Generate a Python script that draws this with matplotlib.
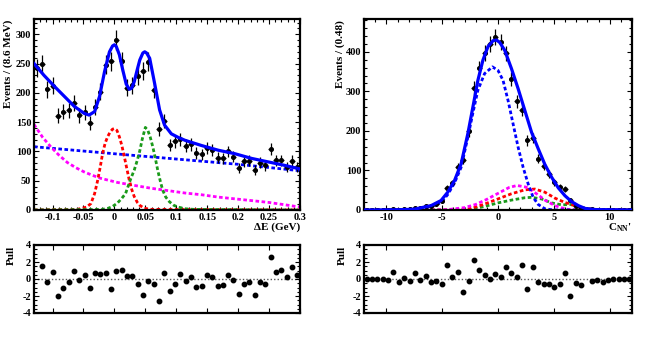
import numpy as np
import matplotlib
matplotlib.use('Agg')
import matplotlib.pyplot as plt
from matplotlib.ticker import MultipleLocator, FixedLocator, NullFormatter

plt.rcParams['font.family'] = ['Liberation Serif', 'DejaVu Serif']
plt.rcParams['font.weight'] = 'bold'
plt.rcParams['axes.unicode_minus'] = False
plt.rcParams['mathtext.fontset'] = 'custom'
plt.rcParams['mathtext.rm'] = 'Liberation Serif:bold'
plt.rcParams['mathtext.it'] = 'Liberation Serif:bold'

# ---- Delta E panel (50 bins of 8.6 MeV from -0.13 to 0.30)
de_lo, de_w = -0.13, 0.0086
de_counts = [242, 249, 206, 212, 161, 168, 170, 182, 162, 167,
             149, 176, 202, 248, 254, 291, 254, 209, 213, 229,
             237, 253, 205, 138, 152, 111, 117, 121, 110, 112,
             97, 95, 106, 102, 89, 88, 100, 91, 72, 83,
             84, 68, 81, 76, 104, 85, 85, 74, 84, 74]
de_pull = [np.nan, 1.54, -0.37, 0.88, -2.05, -1.04, -0.37, 1.0, -0.14, 0.49,
           -1.11, 0.72, 0.64, 0.72, -1.19, 1.0, 1.07, 0.41, 0.41, -0.64,
           -1.89, -0.25, -0.6, -2.56, 0.72, -1.42, -0.53, 0.57, -0.29, 0.25,
           -0.96, -0.88, 0.49, 0.25, -0.84, -0.76, 0.49, -0.1, -1.74, -0.57,
           -0.33, -1.85, -0.37, -0.64, 2.6, 0.88, 1.07, 0.21, 1.39, 0.49]

# fit curves
de_tot_x = [-0.13, -0.114, -0.097, -0.081, -0.065, -0.049, -0.041, -0.032, -0.024,
            -0.016, -0.008, -0.003, 0.0, 0.003, 0.008, 0.0135, 0.019, 0.024, 0.028,
            0.032, 0.037, 0.041, 0.046, 0.049, 0.052, 0.057, 0.065, 0.073, 0.081,
            0.092, 0.103, 0.114, 0.141, 0.168, 0.195, 0.222, 0.249, 0.276, 0.30]
de_tot_y = [250, 230, 211, 194, 177, 165, 162, 168, 194,
            236, 270, 280, 282, 279, 265, 239, 215, 206, 208,
            219, 240, 256, 268, 270, 268, 259, 216, 171, 145,
            130, 124, 119, 110, 102, 96, 88, 82, 76, 70]
de_bkg_x = [-0.13, 0.0, 0.1, 0.2, 0.3]
de_bkg_y = [108, 96, 87, 78, 67]
de_peak_x = [-0.13, 0.0, 0.1, 0.2, 0.3]
de_cont_x = [-0.13, -0.116, -0.103, -0.09, -0.076, -0.062, -0.049, -0.035, -0.022,
             0.005, 0.032, 0.06, 0.087, 0.114, 0.141, 0.168, 0.195, 0.222, 0.249, 0.275, 0.3]
de_cont_y = [146, 124, 108, 94, 81, 72, 65, 59, 54,
             47, 42, 37, 33, 29, 26, 22, 19, 16, 13, 9, 5]
de_sig1_x = [-0.13, -0.06, -0.045, -0.038, -0.032, -0.027, -0.023, -0.019, -0.015, -0.011,
             -0.007, -0.003, 0.0, 0.004, 0.008, 0.012, 0.016, 0.02, 0.024, 0.028,
             0.032, 0.037, 0.041, 0.048, 0.06, 0.3]
de_sig1_y = [0, 1, 5, 11, 28, 51, 73, 97, 114, 125,
             133, 138, 139, 136, 125, 110, 91, 71, 51, 35,
             23, 13, 8, 3, 1, 0]
de_sig2_x = [-0.13, -0.02, -0.01, -0.003, 0.005, 0.012, 0.018, 0.022, 0.027, 0.032,
             0.037, 0.041, 0.045, 0.05, 0.054, 0.058, 0.062, 0.066, 0.07, 0.074,
             0.078, 0.083, 0.089, 0.096, 0.103, 0.115, 0.13, 0.3]
de_sig2_y = [0, 1, 3, 6, 12, 20, 28, 40, 55, 68,
             85, 101, 121, 141, 136, 124, 108, 89, 68, 50,
             34, 22, 14, 8, 5, 2, 1, 0]

# ---- C_NN' panel (50 bins of 0.48 from -12 to 12)
cn_lo, cn_w = -12.0, 0.48
cn_counts = [0, 0, 0, 0, 0, 2, 1, 2, 2, 6,
             5, 9, 10, 16, 22, 55, 68, 108, 127, 199,
             309, 358, 397, 419, 437, 425, 396, 332, 275, 254,
             176, 182, 129, 111, 91, 70, 57, 53, 25, 11,
             6, 3, 3, 1, 1, 0, 0, 0, 0, 0]
cn_pull = [0, 0, 0, 0, -0.1, 0.88, -0.41, 0.06, -0.29, 0.68,
           -0.14, 0.37, -0.41, -0.18, -0.64, 1.62, 0.21, 0.88, -1.5, -0.25,
           2.25, 1.07, 0.45, -0.02, 0.57, 0.18, 1.39, 0.68, 0.29, 1.62,
           -1.15, 1.46, -0.37, -0.53, -0.6, -0.96, -0.53, 0.68, -2.05, -0.45,
           -0.72, np.nan, -0.25, -0.06, -0.37, -0.1, 0, 0, 0, 0]

cn_tot_x = [-12, -9, -7.5, -6.0, -5.1, -4.5, -3.9, -3.3, -2.7, -2.25, -1.8, -1.35,
            -0.9, -0.45, -0.15, 0.15, 0.6, 1.2, 1.8, 2.4, 3.0, 3.6, 4.2, 4.8,
            5.4, 6.0, 6.6, 7.2, 7.8, 8.7, 12]
cn_tot_y = [0, 0.5, 2, 11, 24, 45, 74, 117, 193, 260, 328, 379,
            413, 428, 430, 424, 404, 358, 307, 252, 197, 155, 115, 83,
            56, 36, 21, 11, 4, 1, 0]
cn_sig_x = [-12, -7.5, -6.0, -5.1, -4.5, -3.9, -3.3, -2.7, -2.25, -1.8, -1.2, -0.5,
            0.0, 0.45, 0.9, 1.35, 1.8, 2.25, 2.7, 3.15, 3.6, 4.2, 5.0, 12]
cn_sig_y = [0, 1, 8, 19, 39, 68, 108, 184, 245, 303, 345, 362,
            353, 328, 277, 218, 159, 108, 66, 32, 14, 3, 0, 0]
cn_mag_x = [-12, -5.5, -4.5, -3.0, -2.0, -1.0, 0.0, 1.0, 1.7, 2.5, 3.0, 3.6,
            4.2, 5.1, 6.0, 6.6, 12]
cn_mag_y = [0, 0, 1, 6, 14, 27, 42, 57, 62, 58, 50, 38,
            25, 11, 3, 0, 0]
cn_red_x = [-12, -3.5, -2.4, -1.2, 0.0, 1.2, 2.4, 3.3, 4.2, 5.1, 6.0, 6.9,
            7.8, 9.0, 12]
cn_red_y = [0, 0, 4, 15, 28, 41, 51, 53, 45, 30, 19, 11,
            4, 1, 0]
cn_grn_x = [-12, -3.5, -2.4, -1.2, 0.0, 1.2, 2.4, 3.0, 3.9, 4.8, 5.7, 6.5,
            7.2, 8.1, 9.3, 12]
cn_grn_y = [0, 0, 2, 9, 18, 25, 31, 32, 28, 18, 13, 14,
            8, 3, 0, 0]

BLUE = '#0000ff'
RED = '#ff0000'
GREEN = '#1a9a1a'
MAGENTA = '#ff00ff'
DASH = (0, (1.3, 0.9))


def style(ax, lw=1.6):
    for s in ax.spines.values():
        s.set_linewidth(lw)
    ax.tick_params(which='both', direction='in', top=True, right=True,
                   labelsize=7.5, pad=2, width=0.8)
    ax.tick_params(which='major', length=3.8)
    ax.tick_params(which='minor', length=1.9)


fig = plt.figure(figsize=(6.64, 3.38), dpi=100)
ax1 = fig.add_axes([34/664, 1-210/338, 266/664, 191/338])
ax2 = fig.add_axes([364/664, 1-210/338, 268/664, 191/338])
ax3 = fig.add_axes([34/664, 1-313/338, 266/664, 68/338])
ax4 = fig.add_axes([364/664, 1-313/338, 268/664, 68/338])

# ---------------- Delta E
de_x = de_lo + de_w * (np.arange(len(de_counts)) + 0.5)
de_n = np.array(de_counts, dtype=float)
ax1.plot(de_bkg_x, de_bkg_y, color=BLUE, lw=2.0, ls=DASH, zorder=2)
ax1.plot(de_cont_x, de_cont_y, color=MAGENTA, lw=2.0, ls=DASH, zorder=2)
ax1.plot(de_sig1_x, de_sig1_y, color=RED, lw=2.0, ls=DASH, zorder=2)
ax1.plot(de_sig2_x, de_sig2_y, color=GREEN, lw=2.0, ls=DASH, zorder=2)
ax1.errorbar(de_x, de_n, yerr=np.sqrt(de_n), xerr=de_w/2, fmt='o', ms=2.6,
             color='k', elinewidth=0.9, capsize=0, zorder=3)
ax1.plot(de_tot_x, de_tot_y, color=BLUE, lw=2.3, zorder=4)
ax1.set_xlim(-0.13, 0.30)
ax1.set_ylim(0, 326)
ticks = [-0.1, -0.05, 0, 0.05, 0.1, 0.15, 0.2, 0.25, 0.3]
ax1.xaxis.set_major_locator(FixedLocator(ticks))
ax1.set_xticklabels(['-0.1', '-0.05', '0', '0.05', '0.1', '0.15', '0.2', '0.25', '0.3'])
ax1.xaxis.set_minor_locator(MultipleLocator(0.01))
ax1.yaxis.set_major_locator(MultipleLocator(50))
ax1.yaxis.set_minor_locator(MultipleLocator(10))
style(ax1)

ax3.axhline(0, color='#555555', lw=1.0, ls=(0, (1, 1.5)), zorder=1)
ax3.plot(de_x, de_pull, 'o', ms=3.2, color='k', zorder=3)
ax3.set_xlim(-0.13, 0.30)
ax3.set_ylim(-4, 4)
ax3.xaxis.set_major_locator(FixedLocator(ticks))
ax3.xaxis.set_major_formatter(NullFormatter())
ax3.set_yticks([-4, -2, 0, 2, 4])
ax3.set_yticklabels(['-4', '-2', '0', '2', '4'])
ax3.yaxis.set_minor_locator(MultipleLocator(0.5))
style(ax3)

# ---------------- C_NN'
cn_x = cn_lo + cn_w * (np.arange(len(cn_counts)) + 0.5)
cn_n = np.array(cn_counts, dtype=float)
ax2.plot(cn_grn_x, cn_grn_y, color=GREEN, lw=2.0, ls=DASH, zorder=2)
ax2.plot(cn_red_x, cn_red_y, color=RED, lw=2.0, ls=DASH, zorder=2)
ax2.plot(cn_mag_x, cn_mag_y, color=MAGENTA, lw=2.0, ls=DASH, zorder=2)
ax2.plot(cn_sig_x, cn_sig_y, color=BLUE, lw=2.0, ls=DASH, zorder=2)
ax2.errorbar(cn_x, cn_n, yerr=np.sqrt(cn_n), xerr=cn_w/2, fmt='o', ms=2.6,
             color='k', elinewidth=0.9, capsize=0, zorder=3)
ax2.plot(cn_tot_x, cn_tot_y, color=BLUE, lw=2.3, zorder=4)
ax2.set_xlim(-12, 12)
ax2.set_ylim(0, 483)
ax2.xaxis.set_major_locator(MultipleLocator(5))
ax2.xaxis.set_minor_locator(MultipleLocator(1))
ax2.yaxis.set_major_locator(MultipleLocator(100))
ax2.yaxis.set_minor_locator(MultipleLocator(20))
style(ax2)

ax4.axhline(0, color='#555555', lw=1.0, ls=(0, (1, 1.5)), zorder=1)
ax4.plot(cn_x, cn_pull, 'o', ms=3.2, color='k', zorder=3)
ax4.set_xlim(-12, 12)
ax4.set_ylim(-4, 4)
ax4.xaxis.set_major_locator(MultipleLocator(5))
ax4.xaxis.set_major_formatter(NullFormatter())
ax4.set_yticks([-4, -2, 0, 2, 4])
ax4.set_yticklabels(['-4', '-2', '0', '2', '4'])
ax4.yaxis.set_minor_locator(MultipleLocator(0.5))
style(ax4)

# ---------------- titles (ROOT style, aligned to axis ends)
fig.text(8/664, 1-20/338, 'Events / (8.6 MeV)', rotation=90, ha='center',
         va='top', fontsize=8, weight='bold')
fig.text(340/664, 1-20/338, 'Events / (0.48)', rotation=90, ha='center',
         va='top', fontsize=8, weight='bold')
fig.text(300/664, 1-227/338, '\u0394E (GeV)', ha='right', va='center',
         fontsize=8, weight='bold')
fig.text(632/664, 1-228/338, r"$C_{NN}$'", ha='right', va='center',
         fontsize=8, weight='bold')
fig.text(11/664, 1-246/338, 'Pull', rotation=90, ha='center', va='top',
         fontsize=8, weight='bold')
fig.text(342/664, 1-246/338, 'Pull', rotation=90, ha='center', va='top',
         fontsize=8, weight='bold')

fig.savefig('out.png', dpi=100)
